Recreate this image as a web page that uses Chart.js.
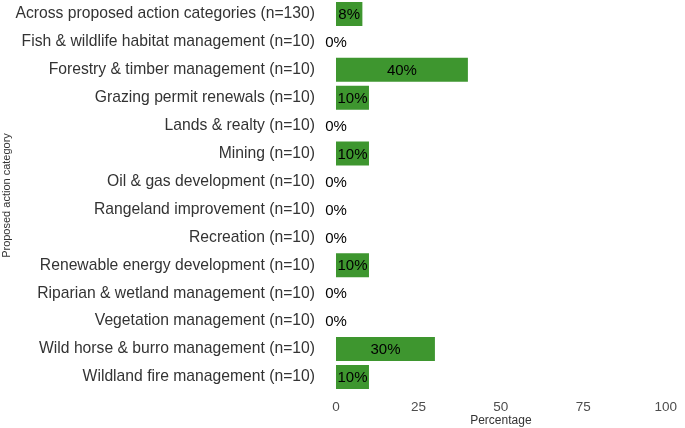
<!DOCTYPE html>
<html lang="en">
<head>
    <meta charset="UTF-8">
    <title>Proposed action categories</title>
    <script src="https://cdn.jsdelivr.net/npm/chart.js"></script>
    <style>
        * { margin: 0; padding: 0; box-sizing: border-box; }
        body { background: #fff; width: 685px; height: 428px; overflow: hidden; }
        .chart-box { position: relative; width: 685px; height: 428px; }
    </style>
</head>
<body>
    <div class="chart-box">
        <canvas id="barChart"></canvas>
    </div>

    <script>
        // Data
        const categories = [
            'Across proposed action categories (n=130)',
            'Fish & wildlife habitat management (n=10)',
            'Forestry & timber management (n=10)',
            'Grazing permit renewals (n=10)',
            'Lands & realty (n=10)',
            'Mining (n=10)',
            'Oil & gas development (n=10)',
            'Rangeland improvement (n=10)',
            'Recreation (n=10)',
            'Renewable energy development (n=10)',
            'Riparian & wetland management (n=10)',
            'Vegetation management (n=10)',
            'Wild horse & burro management (n=10)',
            'Wildland fire management (n=10)'
        ];
        const percentages = [8, 0, 40, 10, 0, 10, 0, 0, 0, 10, 0, 0, 30, 10];
        const xTicks = [0, 25, 50, 75, 100];

        const fontName = "'Liberation Sans', Arial, sans-serif";

        // value labels centred on the bar (0% sits on the axis)
        const valueLabels = {
            id: 'valueLabels',
            afterDatasetsDraw(chart) {
                const ctx = chart.ctx;
                const xs = chart.scales.x;
                const ys = chart.scales.y;
                ctx.save();
                ctx.font = '15px ' + fontName;
                ctx.fillStyle = '#000';
                ctx.textAlign = 'center';
                ctx.textBaseline = 'middle';
                percentages.forEach(function(v, i) {
                    ctx.fillText(v + '%', xs.getPixelForValue(v / 2), ys.getPixelForValue(i) + 1);
                });
                ctx.restore();
            }
        };

        const ctx = document.getElementById('barChart').getContext('2d');
        new Chart(ctx, {
            type: 'bar',
            data: {
                labels: categories,
                datasets: [{
                    data: percentages,
                    backgroundColor: '#3e962f',
                    borderWidth: 0,
                    categoryPercentage: 1,
                    barPercentage: 0.86
                }]
            },
            options: {
                indexAxis: 'y',
                responsive: true,
                maintainAspectRatio: false,
                animation: false,
                layout: { padding: { left: 0, right: 15, top: 0, bottom: 0 } },
                plugins: {
                    legend: { display: false },
                    tooltip: { enabled: false }
                },
                scales: {
                    x: {
                        min: 0,
                        max: 100,
                        afterBuildTicks: function(scale) {
                            scale.ticks = xTicks.map(function(v) { return { value: v }; });
                        },
                        afterFit: function(scale) { scale.height = 37; },
                        grid: { display: false, drawTicks: false },
                        border: { display: false },
                        ticks: {
                            color: '#4d4d4d',
                            padding: 8,
                            maxRotation: 0,
                            font: { family: fontName, size: 13.5 }
                        },
                        title: {
                            display: true,
                            text: 'Percentage',
                            color: '#333',
                            padding: { top: 0, bottom: 0 },
                            font: { family: fontName, size: 12 }
                        }
                    },
                    y: {
                        afterFit: function(scale) {
                            scale.width = 336;
                            scale.paddingTop = 0;
                            scale.paddingBottom = 0;
                        },
                        grid: { display: false, drawTicks: false },
                        border: { display: false },
                        ticks: {
                            color: '#333',
                            padding: 21,
                            autoSkip: false,
                            font: { family: fontName, size: 15.7 }
                        },
                        title: {
                            display: true,
                            text: 'Proposed action category',
                            color: '#333',
                            padding: { top: 0, bottom: 0 },
                            font: { family: fontName, size: 11 }
                        }
                    }
                }
            },
            plugins: [valueLabels]
        });
    </script>
</body>
</html>
